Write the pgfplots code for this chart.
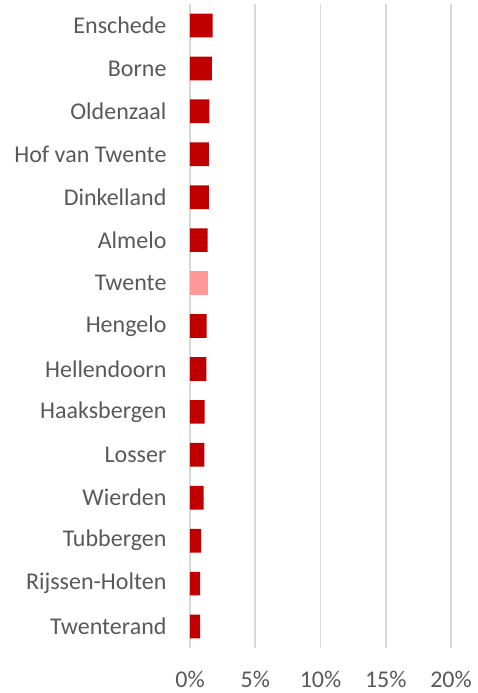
\documentclass[border=0pt]{standalone}
\usepackage{pgfplots}
\pgfplotsset{compat=1.18}
\usepackage{fontspec}
\setmainfont{Carlito}
\definecolor{txt}{HTML}{595959}
\definecolor{grd}{HTML}{D9D9D9}
\definecolor{dred}{HTML}{C00000}
\definecolor{pink}{HTML}{FF9999}
\begin{document}
\begin{tikzpicture}[x=1pt,y=1pt]
\path[use as bounding box] (-190,-45) rectangle (288,648);
\begin{axis}[
  at={(0,0)}, anchor=south west,
  scale only axis, width=261pt, height=644pt,
  xmin=0, xmax=20, ymin=-0.5, ymax=14.5,
  y dir=reverse,
  xbar, bar width=23.7pt, bar shift=0pt,
  axis line style={draw=none},
  xmajorgrids, grid style={grd, line width=1.6pt},
  major tick length=0pt,
  xtick={0,5,10,15,20},
  xticklabels={0\%,5\%,10\%,15\%,20\%},
  ytick={0,...,14},
  yticklabels={Enschede,Borne,Oldenzaal,Hof van Twente,Dinkelland,Almelo,Twente,Hengelo,Hellendoorn,Haaksbergen,Losser,Wierden,Tubbergen,Rijssen-Holten,Twenterand},
  tick label style={font=\fontsize{24}{28}\selectfont, text=txt},
  /pgf/number format/assume math mode=true,
  xticklabel style={yshift=-20pt},
  yticklabel style={xshift=-20pt},
]
\addplot[fill=dred, draw=none] coordinates {
(1.74,0) (1.67,1) (1.49,2) (1.44,3) (1.44,4) (1.36,5)
(1.28,7) (1.26,8) (1.13,9) (1.10,10) (1.05,11) (0.85,12) (0.77,13) (0.77,14)};
\addplot[fill=pink, draw=none] coordinates {(1.36,6)};
\end{axis}
\end{tikzpicture}
\end{document}
